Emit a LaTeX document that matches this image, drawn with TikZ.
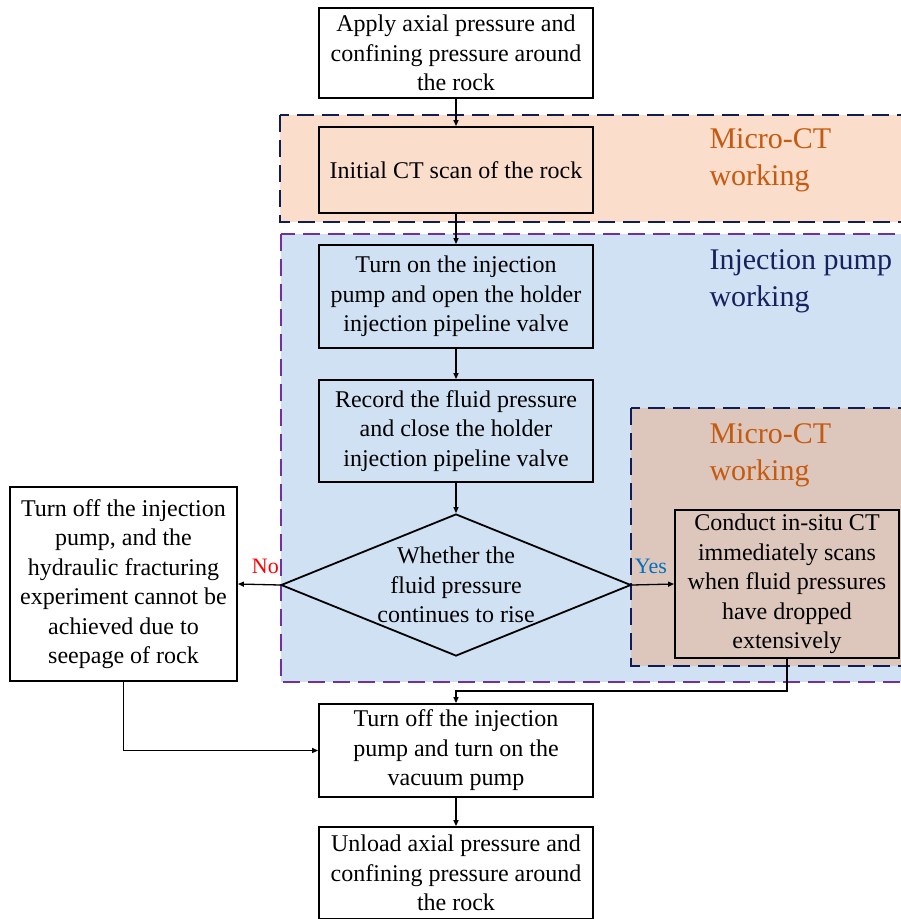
\documentclass[tikz,border=0pt]{standalone}
\usepackage{fontspec}
\setmainfont{Liberation Serif}
\usetikzlibrary{arrows.meta,shapes.geometric}
\definecolor{peach}{RGB}{251,221,204}
\definecolor{lblue}{RGB}{207,225,243}
\definecolor{brownish}{RGB}{221,199,189}
\definecolor{navyb}{RGB}{16,28,84}
\definecolor{purpleb}{RGB}{112,48,160}
\definecolor{orangetxt}{RGB}{197,90,17}
\definecolor{navytxt}{RGB}{22,34,94}
\definecolor{yesblue}{RGB}{0,112,192}
\tikzset{
  region/.style={line width=2.6pt, dash pattern=on 17pt off 8pt},
  stepbox/.style={draw=black, line width=1.8pt, align=center, inner sep=0pt,
    minimum width=274pt, font=\fontsize{24}{29.5}\selectfont},
  decision/.style={draw=black, line width=1.8pt, inner sep=0pt, diamond, aspect=2.465,
    minimum width=350pt, minimum height=142pt},
  dectext/.style={align=center, font=\fontsize{24}{29.5}\selectfont},
  arr/.style={line width=1.3pt, -{Triangle[length=6pt,width=5pt]}},
  reglabel/.style={anchor=west, align=left, font=\fontsize{30}{37}\selectfont},
  ynlabel/.style={font=\fontsize{22}{26}\selectfont, above=7pt}
}
\begin{document}
\begin{tikzpicture}[x=1pt,y=-1pt]
\useasboundingbox (0,0) rectangle (901,919);
\clip (0,0) rectangle (901,919);
\fill[white] (0,0) rectangle (901,919);
% regions
\draw[region, draw=navyb, fill=peach] (280,115) rectangle (915,222);
\draw[region, draw=purpleb, fill=lblue] (281,234) rectangle (915,682);
\draw[region, draw=navyb, fill=brownish] (631,408) rectangle (915,666);
\node[reglabel, text=orangetxt] (lab1) at (706,160) {Micro-CT\\working};
\node[reglabel, text=navytxt] (lab2) at (706,281) {Injection pump\\working};
\node[reglabel, text=orangetxt] (lab3) at (706,455) {Micro-CT\\working};
% nodes
\node[stepbox, fill=white, minimum height=90pt] (top) at (456,53) {Apply axial pressure and\\confining pressure around\\the rock};
\node[stepbox, minimum height=86pt] (initct) at (456,170) {Initial CT scan of the rock};
\node[stepbox, minimum height=103pt] (turnon) at (456,296.5) {Turn on the injection\\pump and open the holder\\injection pipeline valve};
\node[stepbox, minimum height=102pt] (record) at (456,431) {Record the fluid pressure\\and close the holder\\injection pipeline valve};
\node[decision] (dec) at (456,585) {};
\node[dectext] (dect) at (dec.center) {Whether the\\fluid pressure\\continues to rise};
\node[stepbox, minimum width=227pt, minimum height=194pt] (left) at (123.5,584) {Turn off the injection\\pump, and the\\hydraulic fracturing\\experiment cannot be\\achieved due to\\seepage of rock};
\node[stepbox, minimum width=224pt, minimum height=148pt] (conduct) at (787,584) {Conduct in-situ CT\\immediately scans\\when fluid pressures\\have dropped\\extensively};
\node[stepbox, minimum height=93pt] (off) at (456,750.5) {Turn off the injection\\pump and turn on the\\vacuum pump};
\node[stepbox, minimum height=92pt] (unload) at (456,873) {Unload axial pressure and\\confining pressure around\\the rock};
% connectors
\draw[arr] (top.south) -- (initct.north);
\draw[arr] (initct.south) -- (turnon.north);
\draw[arr] (turnon.south) -- (record.north);
\draw[arr] (record.south) -- (dec.north);
\draw[arr] (dec.west) -- node[ynlabel, text=red, pos=0.35] {No} (left.east);
\draw[arr] (dec.east) -- node[ynlabel, text=yesblue, pos=0.45] {Yes} (conduct.west);
\draw[arr] (conduct.south) |- ([yshift=12pt]off.north) -- (off.north);
\draw[arr] (left.south) |- (off.west);
\draw[arr] (off.south) -- (unload.north);
\end{tikzpicture}
\end{document}
